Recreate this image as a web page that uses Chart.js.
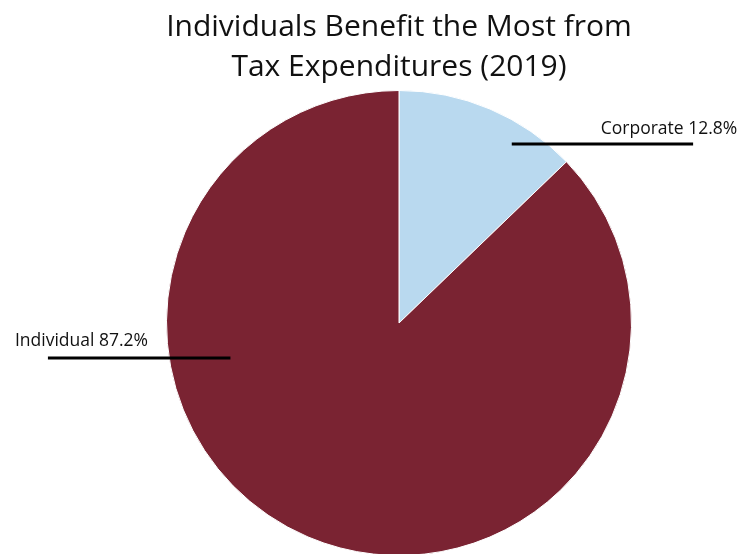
<!DOCTYPE html>
<html>
<head>
<meta charset="utf-8">
<script src="https://cdn.jsdelivr.net/npm/chart.js@4"></script>
<style>
  html, body { margin: 0; padding: 0; background: #fff; overflow: hidden; }
  #wrap { width: 740px; height: 600px; }
</style>
</head>
<body>
<div id="wrap"><canvas id="pieChart" width="740" height="600"></canvas></div>
<script>
// Dados do gráfico
const categorias = ['Corporate', 'Individual'];
const valores = [12.8, 87.2];
const cores = ['#b9d9ef', '#7a2332'];
const titulo = ['Individuals Benefit the Most from', 'Tax Expenditures (2019)'];

// Posição dos rótulos relativa ao centro (fração do raio)
const rotulos = [
    { linha: [0.485, -0.77, 1.265, -0.77], texto: [1.455, -0.815], alinhar: 'right' },
    { linha: [-1.51, 0.15, -0.725, 0.15], texto: [-1.652, 0.10], alinhar: 'left' }
];

const desenharExtras = {
    id: 'desenharExtras',
    afterDraw(chart) {
        const ctx = chart.ctx;
        ctx.save();
        // Título
        ctx.fillStyle = '#111';
        ctx.textAlign = 'center';
        ctx.textBaseline = 'alphabetic';
        ctx.font = '30px "Open Sans"';
        ctx.fillText(titulo[0], 399, 36);
        ctx.fillText(titulo[1], 399, 76);

        // Rótulos com linhas
        const meta = chart.getDatasetMeta(0);
        meta.data.forEach((arc, i) => {
            const cx = arc.x, cy = arc.y, r = arc.outerRadius;
            const cfg = rotulos[i];
            ctx.strokeStyle = '#000';
            ctx.lineWidth = 3;
            ctx.beginPath();
            ctx.moveTo(cx + cfg.linha[0] * r, cy + cfg.linha[1] * r);
            ctx.lineTo(cx + cfg.linha[2] * r, cy + cfg.linha[3] * r);
            ctx.stroke();
            ctx.fillStyle = '#111';
            ctx.font = '17.5px "Open Sans"';
            ctx.textAlign = cfg.alinhar;
            ctx.fillText(categorias[i] + ' ' + valores[i].toFixed(1) + '%', cx + cfg.texto[0] * r, cy + cfg.texto[1] * r);
        });
        ctx.restore();
    }
};

new Chart(document.getElementById('pieChart').getContext('2d'), {
    type: 'pie',
    data: {
        labels: categorias,
        datasets: [{
            data: valores,
            backgroundColor: cores,
            borderColor: '#ffffff',
            borderWidth: 1
        }]
    },
    options: {
        responsive: false,
        animation: false,
        layout: { padding: { left: 166, right: 108, top: 90, bottom: 44 } },
        plugins: {
            legend: { display: false },
            tooltip: { enabled: false },
            title: { display: false }
        }
    },
    plugins: [desenharExtras]
});
</script>
</body>
</html>
